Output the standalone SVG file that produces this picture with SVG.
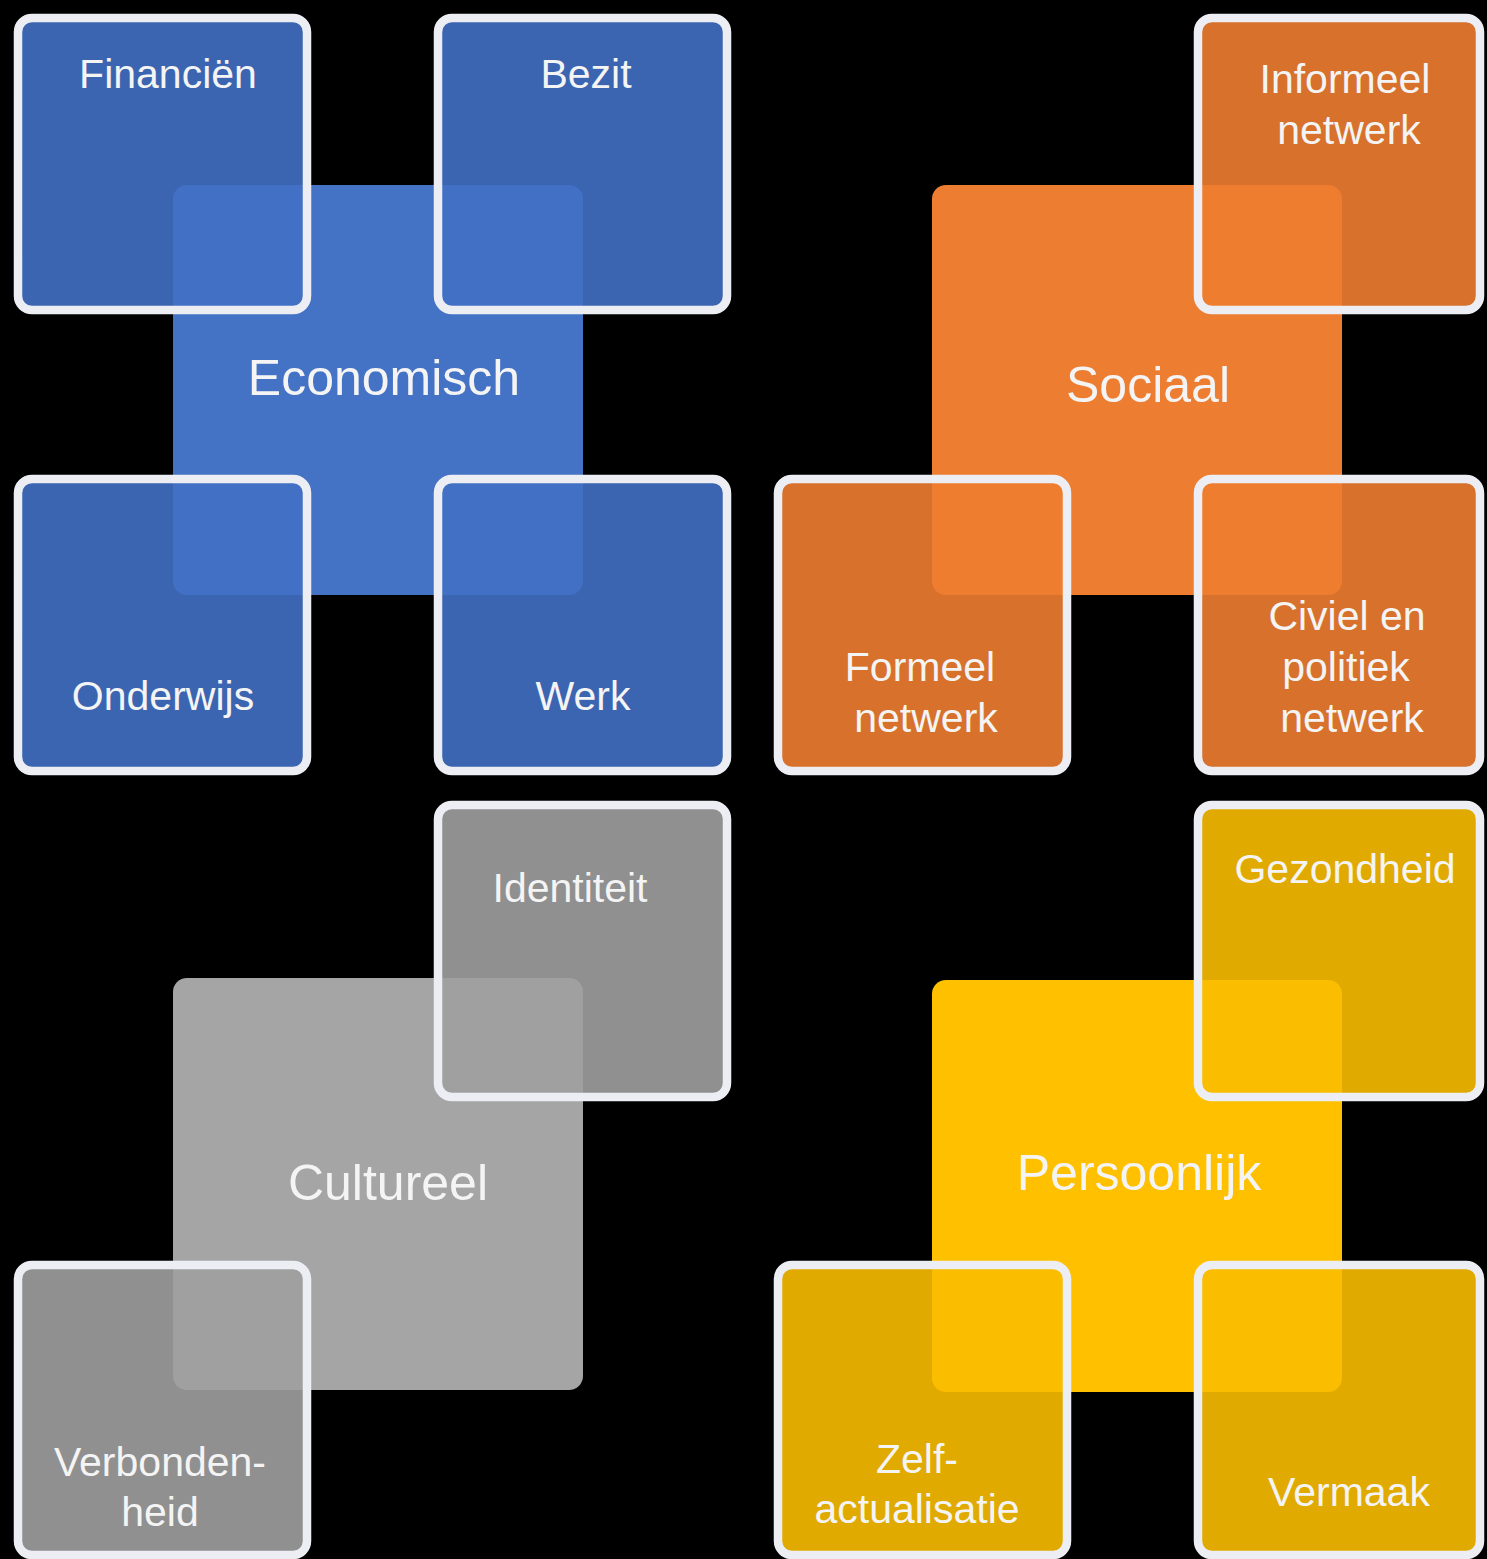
<svg xmlns="http://www.w3.org/2000/svg" width="1487" height="1559" viewBox="0 0 1487 1559">
<style>
.bg{fill:#000}
.hub{stroke:none}
.sq{stroke:#eceef4;stroke-width:8.5}
.t{font-family:"Liberation Sans",Arial,sans-serif;fill:#f4f4f4;text-anchor:middle}
.s{font-size:41px}
.b{font-size:50px}
.blue{fill:#4472c4}
.orange{fill:#ed7d31}
.gray{fill:#a5a5a5}
.yellow{fill:#ffc000}
.sq.blue{fill:rgba(66,112,196,0.9)}
.sq.orange{fill:rgba(238,125,49,0.9)}
.sq.gray{fill:rgba(160,160,160,0.9)}
.sq.yellow{fill:rgba(250,188,0,0.9)}
</style>
<rect class="bg" x="0" y="0" width="1487" height="1559"/>
<g id="connectors"/>
<g id="economisch">
  <rect class="hub blue" x="173" y="185" width="410" height="410" rx="14"/>
  <text class="t b" x="384" y="395">Economisch</text>
</g>
<g id="financien">
  <rect class="sq blue" x="18" y="18" width="289" height="292" rx="14"/>
  <text class="t s" x="168" y="88">Financiën</text>
</g>
<g id="bezit">
  <rect class="sq blue" x="438" y="18" width="289" height="292" rx="14"/>
  <text class="t s" x="586" y="88">Bezit</text>
</g>
<g id="onderwijs">
  <rect class="sq blue" x="18" y="479" width="289" height="292" rx="14"/>
  <text class="t s" x="163" y="710">Onderwijs</text>
</g>
<g id="werk">
  <rect class="sq blue" x="438" y="479" width="289" height="292" rx="14"/>
  <text class="t s" x="583" y="710">Werk</text>
</g>
<g id="sociaal">
  <rect class="hub orange" x="932" y="185" width="410" height="410" rx="14"/>
  <text class="t b" x="1148" y="402">Sociaal</text>
</g>
<g id="informeel">
  <rect class="sq orange" x="1198" y="18" width="282" height="292" rx="14"/>
  <text class="t s" x="1345" y="93">Informeel</text>
  <text class="t s" x="1349" y="144">netwerk</text>
</g>
<g id="formeel">
  <rect class="sq orange" x="778" y="479" width="289" height="292" rx="14"/>
  <text class="t s" x="920" y="681">Formeel</text>
  <text class="t s" x="926" y="732">netwerk</text>
</g>
<g id="civiel">
  <rect class="sq orange" x="1198" y="479" width="282" height="292" rx="14"/>
  <text class="t s" x="1347" y="630">Civiel en</text>
  <text class="t s" x="1346" y="681">politiek</text>
  <text class="t s" x="1352" y="732">netwerk</text>
</g>
<g id="cultureel">
  <rect class="hub gray" x="173" y="978" width="410" height="412" rx="14"/>
  <text class="t b" x="388" y="1200">Cultureel</text>
</g>
<g id="identiteit">
  <rect class="sq gray" x="438" y="805" width="289" height="292" rx="14"/>
  <text class="t s" x="570" y="902">Identiteit</text>
</g>
<g id="verbondenheid">
  <rect class="sq gray" x="18" y="1265" width="289" height="290" rx="14"/>
  <text class="t s" x="160" y="1476">Verbonden-</text>
  <text class="t s" x="160" y="1526">heid</text>
</g>
<g id="persoonlijk">
  <rect class="hub yellow" x="932" y="980" width="410" height="412" rx="14"/>
  <text class="t b" x="1139" y="1190">Persoonlijk</text>
</g>
<g id="gezondheid">
  <rect class="sq yellow" x="1198" y="805" width="282" height="292" rx="14"/>
  <text class="t s" x="1345" y="883">Gezondheid</text>
</g>
<g id="zelfactualisatie">
  <rect class="sq yellow" x="778" y="1265" width="289" height="290" rx="14"/>
  <text class="t s" x="917" y="1473">Zelf-</text>
  <text class="t s" x="917" y="1523">actualisatie</text>
</g>
<g id="vermaak">
  <rect class="sq yellow" x="1198" y="1265" width="282" height="290" rx="14"/>
  <text class="t s" x="1349" y="1506">Vermaak</text>
</g>
</svg>
